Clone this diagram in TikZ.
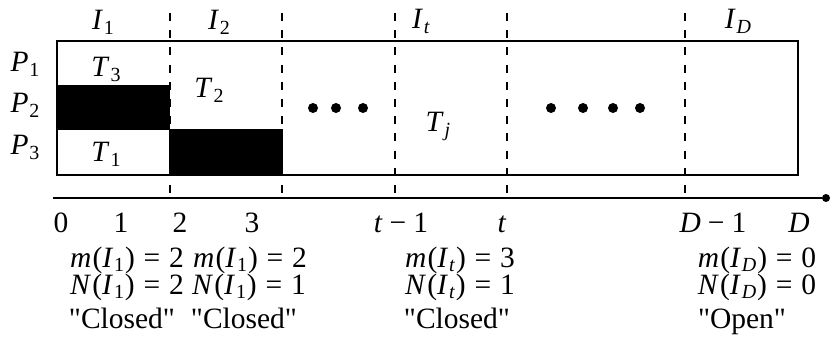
\documentclass[tikz,border=0pt]{standalone}
\usepackage{fontspec}
\setmainfont{Liberation Serif}
\newfontfamily\plainq{Liberation Serif}
\newcommand{\vi}[1]{\textit{#1}}
\newcommand{\sbs}[1]{\kern0.03em\raisebox{-0.15em}{\fontsize{20}{21}\selectfont #1}}
\newcommand{\eqs}{\hspace{0.3em}=\hspace{0.3em}}
\newcommand{\mns}{\hspace{0.24em}−\hspace{0.24em}}
\newcommand{\qt}{{\plainq\char"22\relax}}
\newcommand{\mx}[3]{\vi{#1}\kern0.04em(\vi{I}\sbs{#2}\kern0.03em)\eqs #3}
\begin{document}
\begin{tikzpicture}[x=1pt,y=-1pt,
  lbl/.style={font=\fontsize{29.5}{31}\selectfont, inner sep=0pt, anchor=base},
  sep/.style={line width=2pt, dash pattern=on 8pt off 9.2pt},
  frame/.style={line width=2pt},
  dotmark/.style={circle, fill=black, inner sep=0pt, minimum size=10pt}]
\useasboundingbox (0,0) rectangle (832,339);
% black blocks
\fill (57,85) rectangle (170,130);
\fill (169,129) rectangle (283,175);
% frame
\draw[frame] (57,41) rectangle (798,175);
% separators
\foreach \xx in {170,282,395,507,685} \draw[sep] (\xx,13) -- (\xx,194);
% axis
\coordinate (a0) at (53,198);
\node[circle, fill=black, inner sep=0pt, minimum size=8pt] (aend) at (826,198) {};
\draw[line width=2.4pt] (a0) -- (aend);
% interval labels
\node[lbl] (i1) at (103,30) {\vi{I}\sbs{1}};
\node[lbl] (i2) at (219,30) {\vi{I}\sbs{2}};
\node[lbl] (it) at (421,29) {\vi{I}\sbs{\vi{t}}};
\node[lbl] (iD) at (738,29) {\vi{I}\sbs{\vi{D}}};
% processors
\node[lbl] (p1) at (25,72) {\vi{P}\sbs{1}};
\node[lbl] (p2) at (25,113) {\vi{P}\sbs{2}};
\node[lbl] (p3) at (25,155) {\vi{P}\sbs{3}};
% tasks
\node[lbl] (t3) at (106,77) {\vi{T}\sbs{3}};
\node[lbl] (t2) at (209,98) {\vi{T}\sbs{2}};
\node[lbl] (t1) at (106,162) {\vi{T}\sbs{1}};
\node[lbl] (tj) at (438,132) {\vi{T}\sbs{\vi{j}}};
% dots
\foreach \xx [count=\k] in {313,336,363} \node[dotmark] (da\k) at (\xx,108) {};
\foreach \xx [count=\k] in {551,583,613,640} \node[dotmark] (db\k) at (\xx,108) {};
% axis labels
\node[lbl] (n0) at (61,233) {0};
\node[lbl] (n1) at (121,233) {1};
\node[lbl] (n2) at (180,233) {2};
\node[lbl] (n3) at (252,233) {3};
\node[lbl] (ntm) at (401,233) {\vi{t}\mns 1};
\node[lbl] (nt) at (502,233) {\vi{t}};
\node[lbl] (nDm) at (713,233) {\vi{D}\mns 1};
\node[lbl] (nD) at (799,233) {\vi{D}};
% bottom stats
\node[lbl] (m1) at (127,267) {\mx{m}{1}{2}};
\node[lbl] (m2) at (250,267) {\mx{m}{1}{2}};
\node[lbl] (mt) at (460,267) {\mx{m}{\vi{t}}{3}};
\node[lbl] (mD) at (757,267) {\mx{m}{\vi{D}}{0}};
\node[lbl] (N1) at (127,294) {\mx{N}{1}{2}};
\node[lbl] (N2) at (249,294) {\mx{N}{1}{1}};
\node[lbl] (Nt) at (460,294) {\mx{N}{\vi{t}}{1}};
\node[lbl] (ND) at (757,294) {\mx{N}{\vi{D}}{0}};
\node[lbl] (c1) at (122,328) {\qt Closed\qt};
\node[lbl] (c2) at (244,328) {\qt Closed\qt};
\node[lbl] (ct) at (457,328) {\qt Closed\qt};
\node[lbl] (oD) at (742,328) {\qt Open\qt};
\end{tikzpicture}
\end{document}
